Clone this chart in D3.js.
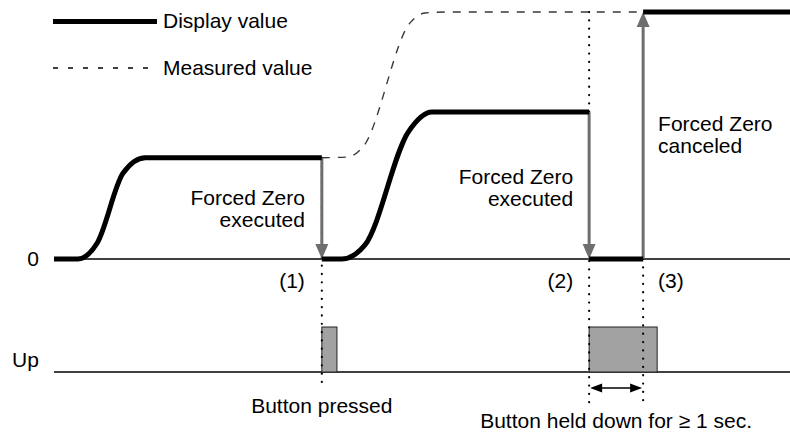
<!DOCTYPE html>
<html lang="en">
<head>
  <meta charset="UTF-8">
  <title>Forced Zero</title>
  <style>
    body, html { margin: 0; padding: 0; background: #fff; }
    #svg { display: block; font-family: 'Liberation Sans', Arial, Helvetica, sans-serif; font-size: 21px; }
  </style>
</head>
<body>
  <svg id="svg" width="790" height="435"></svg>

  <script src="https://cdn.jsdelivr.net/npm/d3@7/dist/d3.min.js"></script>
  <script>
    // time in seconds, value in % of the top level
    const rise1 = [[0, 0], [0.44, 0], [0.80, 6.5], [1.28, 34.8], [1.69, 41], [4.96, 41]]
    const rise2 = [[4.96, 0], [5.33, 0], [5.76, 5.7], [6.56, 51.4], [7.0, 59.5], [9.91, 59.5]]
    const zeroHold = [[9.91, 0], [10.91, 0]]
    const released = [[10.91, 100], [13.63, 100]]
    const measured = [[4.96, 41], [5.44, 41.3], [5.72, 45.3], [6.59, 95.5], [6.87, 99.6], [7.28, 100], [13.63, 100]]

    // forced zero steps: time, from value, to value
    const stepTimes = [4.96, 9.91, 10.91]
    const stepFrom = [41, 59.5, 0]
    const stepTo = [0, 0, 100]
    const stepLabels = ['(1)', '(2)', '(3)']

    // button "Up" pulses [start, end]
    const pulses = [[4.96, 5.24], [9.91, 11.17]]

    const svg = d3.select('#svg')

    const x = d3.scaleLinear().domain([0, 13.63]).range([54, 790])
    const y = d3.scaleLinear().domain([0, 100]).range([259, 12])
    const yBtn = d3.scaleLinear().domain([0, 1]).range([372, 327])

    const line = d3.line()
      .x(d => x(d[0]))
      .y(d => y(d[1]))
      .curve(d3.curveMonotoneX)

    // base lines
    svg.append('line')
      .attr('x1', x(0)).attr('x2', 790)
      .attr('y1', y(0)).attr('y2', y(0))
      .attr('stroke', '#000').attr('stroke-width', 1.3)
    svg.append('line')
      .attr('x1', x(0)).attr('x2', 790)
      .attr('y1', yBtn(0)).attr('y2', yBtn(0))
      .attr('stroke', '#000').attr('stroke-width', 1.3)

    svg.append('text').attr('x', 39).attr('y', y(0) + 7).attr('text-anchor', 'end').text('0')
    svg.append('text').attr('x', 12).attr('y', 367).text('Up')

    // button pulses
    svg.selectAll('rect.pulse')
      .data(pulses)
      .join('rect')
      .attr('class', 'pulse')
      .attr('x', d => x(d[0]))
      .attr('width', d => x(d[1]) - x(d[0]))
      .attr('y', yBtn(1))
      .attr('height', yBtn(0) - yBtn(1))
      .attr('fill', '#a2a2a2')
      .attr('stroke', '#222')
      .attr('stroke-width', 1)

    // measured value (dashed)
    svg.append('path')
      .attr('d', line(measured))
      .attr('fill', 'none')
      .attr('stroke', '#3a3a3a')
      .attr('stroke-width', 1.4)
      .attr('stroke-dasharray', '8,8')

    // dotted guide lines
    const guideTop = [y(41), y(100), y(0)]
    const guideBottom = [390, 405, 405]
    stepTimes.forEach((t, i) => {
      svg.append('line')
        .attr('x1', x(t)).attr('x2', x(t))
        .attr('y1', guideTop[i]).attr('y2', guideBottom[i])
        .attr('stroke', '#000')
        .attr('stroke-width', 2.2)
        .attr('stroke-linecap', 'round')
        .attr('stroke-dasharray', '0.1,8.2')
    })

    // gray step arrows
    const head = 15, half = 6.5
    stepTimes.forEach((t, i) => {
      const x0 = x(t), y0 = y(stepFrom[i]), y1 = y(stepTo[i])
      const dir = y1 > y0 ? 1 : -1
      svg.append('line')
        .attr('x1', x0).attr('x2', x0)
        .attr('y1', y0).attr('y2', y1 - dir * head)
        .attr('stroke', '#6e6e6e')
        .attr('stroke-width', 3)
      svg.append('path')
        .attr('d', `M${x0},${y1} L${x0 - half},${y1 - dir * head} L${x0 + half},${y1 - dir * head} Z`)
        .attr('fill', '#6e6e6e')
    })

    // display value (thick)
    svg.selectAll('path.display')
      .data([rise1, rise2, zeroHold, released])
      .join('path')
      .attr('class', 'display')
      .attr('d', d => line(d))
      .attr('fill', 'none')
      .attr('stroke', '#000')
      .attr('stroke-width', 5)
      .attr('stroke-linejoin', 'round')

    // step labels (1) (2) (3)
    const labelDx = [-17, -16, 15]
    svg.selectAll('text.step')
      .data(stepLabels)
      .join('text')
      .attr('class', 'step')
      .attr('x', (d, i) => x(stepTimes[i]) + labelDx[i])
      .attr('y', 288)
      .attr('text-anchor', (d, i) => labelDx[i] < 0 ? 'end' : 'start')
      .text(d => d)

    // annotations
    const addText = (tx, ty, lines, anchor) => {
      lines.forEach((s, i) => {
        svg.append('text')
          .attr('x', tx).attr('y', ty + i * 22)
          .attr('text-anchor', anchor)
          .text(s)
      })
    }
    addText(x(stepTimes[0]) - 17, 205, ['Forced Zero', 'executed'], 'end')
    addText(x(stepTimes[1]) - 16, 184, ['Forced Zero', 'executed'], 'end')
    addText(x(stepTimes[2]) + 15, 131, ['Forced Zero', 'canceled'], 'start')

    // held-down duration arrow
    const ha = 388, hx0 = x(stepTimes[1]) + 1, hx1 = x(stepTimes[2]) - 1
    svg.append('line')
      .attr('x1', hx0 + 10).attr('x2', hx1 - 10)
      .attr('y1', ha).attr('y2', ha)
      .attr('stroke', '#000').attr('stroke-width', 1.6)
    svg.append('path')
      .attr('d', `M${hx0},${ha} L${hx0 + 12},${ha - 4.5} L${hx0 + 12},${ha + 4.5} Z M${hx1},${ha} L${hx1 - 12},${ha - 4.5} L${hx1 - 12},${ha + 4.5} Z`)
      .attr('fill', '#000')

    svg.append('text')
      .attr('x', x(stepTimes[0])).attr('y', 413)
      .attr('text-anchor', 'middle')
      .text('Button pressed')
    svg.append('text')
      .attr('x', (hx0 + hx1) / 2).attr('y', 428)
      .attr('text-anchor', 'middle')
      .text('Button held down for \u2265 1 sec.')

    // legend
    svg.append('line')
      .attr('x1', 53).attr('x2', 157).attr('y1', 21.5).attr('y2', 21.5)
      .attr('stroke', '#000').attr('stroke-width', 5)
    svg.append('text').attr('x', 163).attr('y', 28).text('Display value')
    svg.append('line')
      .attr('x1', 53).attr('x2', 157).attr('y1', 68).attr('y2', 68)
      .attr('stroke', '#000').attr('stroke-width', 1.3)
      .attr('stroke-dasharray', '5,10')
    svg.append('text').attr('x', 163).attr('y', 75).text('Measured value')
  </script>
</body>
</html>
